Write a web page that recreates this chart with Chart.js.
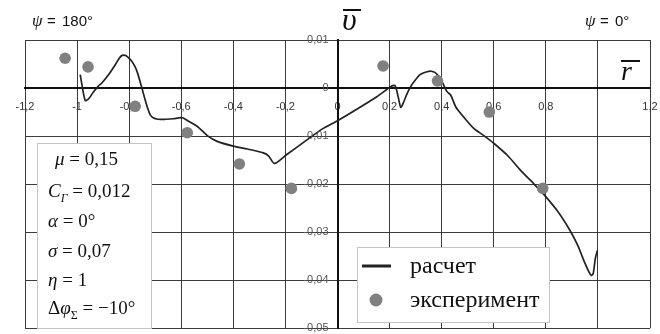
<!DOCTYPE html>
<html>
<head>
<meta charset="utf-8">
<script src="https://cdn.jsdelivr.net/npm/chart.js@4/dist/chart.umd.min.js"></script>
<style>
  html, body { margin: 0; padding: 0; background: #ffffff; }
  #c { display: block; }
</style>
</head>
<body>
<canvas id="c" width="660" height="334"></canvas>
<script>
// Calculated tangential velocity along the blade radius
const curveR = [-0.988, -0.969, -0.955, -0.938, -0.920, -0.904, -0.880, -0.854, -0.838, -0.827, -0.815, -0.804,
  -0.790, -0.777, -0.767, -0.758, -0.748, -0.739, -0.729, -0.719, -0.708, -0.690, -0.660, -0.630, -0.610,
  -0.595, -0.575, -0.538, -0.500, -0.462, -0.400, -0.346, -0.285, -0.265, -0.242, -0.196, -0.120, -0.058,
  0.000, 0.074, 0.151, 0.200, 0.212, 0.222, 0.233, 0.243, 0.255, 0.266, 0.280, 0.295, 0.317, 0.344, 0.360,
  0.375, 0.390, 0.400, 0.420, 0.435, 0.455, 0.484, 0.523, 0.562, 0.600, 0.654, 0.704, 0.755, 0.793, 0.846,
  0.890, 0.923, 0.948, 0.965, 0.975, 0.982, 0.990, 0.998];
const curveV = [0.0028, -0.0026, -0.0022, -0.0009, 0.0003, 0.0011, 0.0027, 0.0048, 0.0062, 0.0068, 0.0068, 0.0064,
  0.0056, 0.0044, 0.0030, 0.0013, -0.0006, -0.0024, -0.0042, -0.0056, -0.0062, -0.0065, -0.0065, -0.0064, -0.0062,
  -0.0062, -0.0068, -0.0080, -0.0099, -0.0111, -0.0121, -0.0127, -0.0135, -0.0141, -0.0157, -0.0139, -0.0109, -0.0085,
  -0.0068, -0.0044, -0.0018, 0.0001, 0.0005, 0.0004, -0.0018, -0.0040, -0.0028, -0.0013, 0.0002, 0.0014, 0.0028, 0.0034, 0.0035,
  0.0032, 0.0024, 0.0015, -0.0007, -0.0015, -0.0040, -0.0060, -0.0084, -0.0099, -0.0115, -0.0141, -0.0172, -0.0200, -0.0222, -0.0257,
  -0.0294, -0.0328, -0.0362, -0.0382, -0.0390, -0.0386, -0.0355, -0.0338];

// Measured values
const expR = [-1.046, -0.958, -0.777, -0.577, -0.377, -0.177, 0.175, 0.384, 0.583, 0.788];
const expV = [0.0062, 0.0044, -0.0038, -0.0093, -0.0158, -0.0209, 0.0046, 0.0015, -0.0050, -0.0209];

// Axis ticks and their labels
const xTickValues = [-1.2, -1.0, -0.8, -0.6, -0.4, -0.2, 0, 0.2, 0.4, 0.6, 0.8, 1.0, 1.2];
const xTickLabels = ['-1,2', '-1', '-0,8', '-0,6', '-0,4', '-0,2', '0', '0,2', '0,4', '0,6', '0,8', '', '1,2'];
const yTickValues = [0.01, 0, -0.01, -0.02, -0.03, -0.04, -0.05];
const yTickLabels = ['0,01', '0', '-0,01', '-0,02', '-0,03', '-0,04', '-0,05'];

// Series names
const seriesNames = ['расчет', 'эксперимент'];

// Flight-condition parameters shown in the info box
const paramLines = [
  [{t: 'μ', it: 1}, {t: ' = 0,15'}],
  [{t: 'C', it: 1}, {t: 'Г', it: 1, sub: 1}, {t: ' = 0,012'}],
  [{t: 'α', it: 1}, {t: ' = 0°'}],
  [{t: 'σ', it: 1}, {t: ' = 0,07'}],
  [{t: 'η', it: 1}, {t: ' = 1'}],
  [{t: 'Δ'}, {t: 'φ', it: 1}, {t: 'Σ', sub: 1}, {t: ' = −10°'}]
];

const SERIF = '"Liberation Serif", "DejaVu Serif", serif';
const SANS = '"Liberation Sans", Arial, sans-serif';

function drawRich(ctx, x, y, parts, size) {
  let cx = x;
  for (const p of parts) {
    const s = p.sub ? Math.round(size * 0.62) : size;
    ctx.font = (p.it ? 'italic ' : '') + s + 'px ' + SERIF;
    ctx.fillText(p.t, cx, y + (p.sub ? size * 0.28 : 0));
    cx += ctx.measureText(p.t).width;
  }
}

// Value labels of the central vertical axis, placed just left of it
const yAxisLabels = {
  id: 'yAxisLabels',
  afterDraw(chart) {
    const ctx = chart.ctx;
    const ys = chart.scales.y;
    const x0 = chart.scales.x.getPixelForValue(0);
    ctx.save();
    ctx.font = '11px ' + SANS;
    ctx.fillStyle = '#555';
    ctx.textAlign = 'right';
    ctx.textBaseline = 'middle';
    ys.ticks.forEach((t, i) => {
      ctx.fillText(yTickLabels[i], x0 - 9, ys.getPixelForValue(t.value));
    });
    ctx.restore();
  }
};

const decorations = {
  id: 'decorations',
  afterDraw(chart) {
    const ctx = chart.ctx;
    const lineDs = chart.data.datasets[1];
    const ptDs = chart.data.datasets[0];
    ctx.save();
    ctx.textBaseline = 'alphabetic';
    ctx.textAlign = 'left';
    ctx.fillStyle = '#111';

    // vertical axis name: upsilon with bar
    ctx.font = 'italic 32px ' + SERIF;
    ctx.fillText('υ', 342, 30);
    ctx.strokeStyle = '#111';
    ctx.lineWidth = 2;
    ctx.beginPath(); ctx.moveTo(343, 10); ctx.lineTo(361, 10); ctx.stroke();

    // horizontal axis name: r with bar
    ctx.font = 'italic 28px ' + SERIF;
    ctx.fillText('r', 621, 80);
    ctx.beginPath(); ctx.moveTo(621, 61); ctx.lineTo(640, 61); ctx.stroke();

    // azimuth captions
    ctx.font = 'italic 17px ' + SERIF;
    ctx.fillText('ψ', 32, 26);
    ctx.fillText('ψ', 585, 26);
    ctx.font = '15px ' + SANS;
    ctx.fillText('=', 47, 26);
    ctx.fillText('180°', 62, 26);
    ctx.fillText('=', 600, 26);
    ctx.fillText('0°', 615, 26);

    // parameter box
    ctx.fillStyle = '#ffffff';
    ctx.fillRect(37, 143, 114, 185);
    ctx.strokeStyle = '#c4c4c4';
    ctx.lineWidth = 1;
    ctx.strokeRect(37.5, 143.5, 114, 185);
    ctx.fillStyle = '#111';
    const baselines = [165, 197, 227, 257, 286, 314];
    paramLines.forEach((parts, i) => drawRich(ctx, i === 0 ? 55 : 48, baselines[i], parts, 19));

    // legend box
    ctx.fillStyle = '#ffffff';
    ctx.fillRect(357, 247, 192, 75);
    ctx.strokeStyle = '#c4c4c4';
    ctx.strokeRect(357.5, 247.5, 192, 75);
    ctx.strokeStyle = lineDs.borderColor;
    ctx.lineWidth = 3;
    ctx.beginPath(); ctx.moveTo(362, 266); ctx.lineTo(391, 266); ctx.stroke();
    ctx.fillStyle = ptDs.backgroundColor;
    ctx.beginPath(); ctx.arc(376, 300, 6.5, 0, Math.PI * 2); ctx.fill();
    ctx.fillStyle = '#111';
    ctx.font = '24px ' + SERIF;
    ctx.fillText(lineDs.label, 410, 273);
    ctx.fillText(ptDs.label, 410, 307);
    ctx.restore();
  }
};

new Chart(document.getElementById('c'), {
  type: 'scatter',
  data: {
    datasets: [
      {
        label: seriesNames[1],
        data: expR.map((r, i) => ({x: r, y: expV[i]})),
        backgroundColor: '#808080',
        borderColor: '#808080',
        pointRadius: 5.8,
        pointHoverRadius: 5.8,
        borderWidth: 0,
        order: 1
      },
      {
        label: seriesNames[0],
        data: curveR.map((r, i) => ({x: r, y: curveV[i]})),
        showLine: true,
        borderColor: '#222222',
        borderWidth: 1.7,
        pointRadius: 0,
        tension: 0.25,
        order: 2
      }
    ]
  },
  options: {
    responsive: false,
    animation: false,
    events: [],
    layout: {padding: {left: 25, right: 10, top: 40, bottom: 0}},
    plugins: {legend: {display: false}, tooltip: {enabled: false}, title: {display: false}},
    scales: {
      x: {
        type: 'linear',
        position: {y: 0},
        min: -1.2,
        max: 1.2,
        afterBuildTicks(s) { s.ticks = xTickValues.map(v => ({value: v})); },
        afterFit(s) { s.paddingLeft = 0; s.paddingRight = 0; },
        grid: {color: '#3c3c3c', lineWidth: 1, tickLength: 5},
        border: {color: '#111111', width: 2},
        ticks: {
          autoSkip: false, maxRotation: 0, padding: 7,
          color: '#333', font: {family: SANS, size: 11},
          callback: (v, i) => xTickLabels[i]
        }
      },
      y: {
        type: 'linear',
        position: {x: 0},
        min: -0.05,
        max: 0.01,
        afterBuildTicks(s) { s.ticks = yTickValues.map(v => ({value: v})); },
        afterFit(s) { s.paddingTop = 0; s.paddingBottom = 0; },
        grid: {color: '#3c3c3c', lineWidth: 1, tickLength: 4},
        border: {color: '#111111', width: 2},
        ticks: {display: false}
      }
    }
  },
  plugins: [yAxisLabels, decorations]
});
</script>
</body>
</html>
